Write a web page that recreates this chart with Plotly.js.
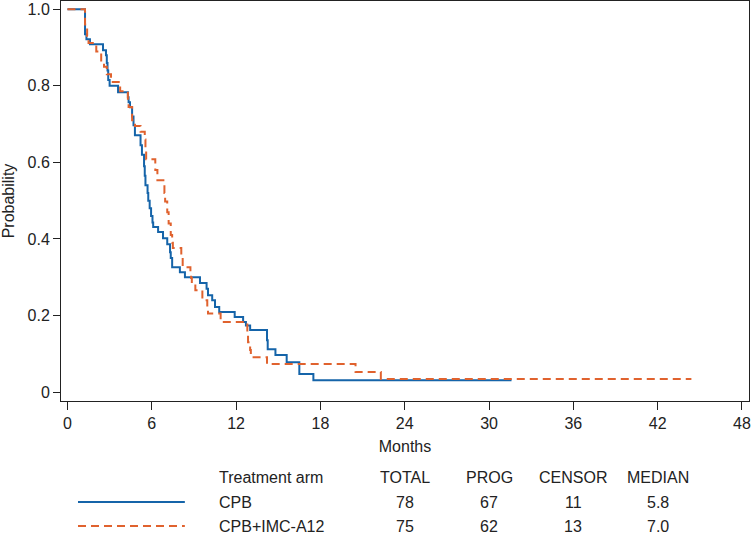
<!DOCTYPE html>
<html>
<head>
<meta charset="utf-8">
<script src="https://cdn.plot.ly/plotly-3.0.1.min.js"></script>
<style>
  body { margin: 0; background: #fff; }
  #km { width: 751px; height: 535px; }
</style>
</head>
<body>
<div id="km"></div>
<script>
// courbes de Kaplan-Meier (mois, probabilité)
var cpbT = [0, 1.25, 1.35, 1.6, 2.53, 2.74, 2.8, 2.85, 2.9, 3.0, 3.6, 4.3, 4.35, 4.45, 4.6, 4.7, 4.8,
  5.2, 5.3, 5.45, 5.5, 5.55, 5.7, 5.75, 5.85, 5.95, 6.05, 6.1, 6.45, 6.8, 7.1, 7.3, 7.35, 7.45,
  8.0, 8.36, 9.43, 9.9, 10.0, 10.3, 10.5, 10.8, 11.9, 12.5, 12.7, 13.0, 14.2, 14.25, 14.8, 15.6,
  16.5, 17.5, 31.6];
var cpbS = [1, 0.935, 0.922, 0.909, 0.893, 0.88, 0.86, 0.84, 0.815, 0.80, 0.783, 0.77, 0.757, 0.744,
  0.72, 0.697, 0.671, 0.645, 0.62, 0.59, 0.565, 0.54, 0.52, 0.50, 0.48, 0.46, 0.443, 0.431, 0.418,
  0.402, 0.386, 0.365, 0.35, 0.326, 0.313, 0.30, 0.285, 0.27, 0.253, 0.24, 0.222, 0.209, 0.196,
  0.183, 0.174, 0.162, 0.135, 0.112, 0.097, 0.078, 0.047, 0.031, 0.031];

var imcT = [0, 1.25, 1.4, 1.5, 2.05, 2.4, 2.6, 2.8, 3.1, 3.75, 4.3, 4.35, 4.6, 4.8, 5.2, 5.5, 5.55,
  5.6, 6.25, 6.4, 6.9, 6.95, 7.1, 7.2, 7.35, 7.45, 7.5, 8.1, 8.2, 8.75, 8.8, 8.85, 9.1, 9.6, 9.95,
  10.0, 10.9, 12.8, 12.85, 13.0, 13.05, 14.2, 20.5, 22.3, 44.4];
var imcS = [1, 0.96, 0.93, 0.912, 0.89, 0.86, 0.85, 0.83, 0.81, 0.786, 0.76, 0.745, 0.71, 0.695,
  0.68, 0.66, 0.635, 0.608, 0.58, 0.553, 0.52, 0.498, 0.47, 0.44, 0.41, 0.39, 0.376, 0.35, 0.326,
  0.31, 0.298, 0.285, 0.266, 0.24, 0.22, 0.205, 0.183, 0.15, 0.13, 0.11, 0.091, 0.073, 0.052,
  0.034, 0.034];

// tableau sous le graphe
var tableHeaders = ['Treatment arm', 'TOTAL', 'PROG', 'CENSOR', 'MEDIAN'];
var tableCols = [24, 30, 36, 42];   // colonnes alignées sur les graduations
var arms = ['CPB', 'CPB+IMC-A12'];
var totals = ['78', '75'];
var progs = ['67', '62'];
var censors = ['11', '13'];
var medians = ['5.8', '7.0'];

var xTicks = [0, 6, 12, 18, 24, 30, 36, 42, 48];
var yTicks = [0, 0.2, 0.4, 0.6, 0.8, 1.0];
var yTickText = ['0', '0.2', '0.4', '0.6', '0.8', '1.0'];

var blue = '#1564a9';
var orange = '#e0622e';
var txt = '#222';
var fontFam = '"Liberation Sans", Arial, sans-serif';

var cpb = {
  x: cpbT, y: cpbS, mode: 'lines', name: arms[0],
  line: { color: blue, width: 2, shape: 'hv' }
};
var imc = {
  x: imcT, y: imcS, mode: 'lines', name: arms[1],
  line: { color: orange, width: 2, shape: 'hv', dash: '8px,5px' }
};

// positions des lignes du tableau (en coordonnées papier)
var rowY = [-0.2525, -0.3125];
var headY = -0.1915;
var armX = 0.2267;

var annotations = [];
annotations.push({ xref: 'paper', yref: 'paper', x: armX, y: headY, xanchor: 'left', yanchor: 'middle',
  text: tableHeaders[0], showarrow: false });
tableCols.forEach(function (c, i) {
  annotations.push({ xref: 'x', yref: 'paper', x: c, y: headY, xanchor: 'center', yanchor: 'middle',
    text: tableHeaders[i + 1], showarrow: false });
});
arms.forEach(function (a, r) {
  annotations.push({ xref: 'paper', yref: 'paper', x: armX, y: rowY[r], xanchor: 'left', yanchor: 'middle',
    text: a, showarrow: false });
  [totals[r], progs[r], censors[r], medians[r]].forEach(function (v, i) {
    annotations.push({ xref: 'x', yref: 'paper', x: tableCols[i], y: rowY[r], xanchor: 'center',
      yanchor: 'middle', text: v, showarrow: false });
  });
});

var shapes = [
  { type: 'line', xref: 'paper', yref: 'paper', x0: 0.0247, x1: 0.180, y0: rowY[0], y1: rowY[0],
    line: { color: blue, width: 2 } },
  { type: 'line', xref: 'paper', yref: 'paper', x0: 0.0247, x1: 0.180, y0: rowY[1], y1: rowY[1],
    line: { color: orange, width: 2, dash: '8px,5px' } }
];

var layout = {
  width: 751,
  height: 535,
  margin: { l: 61, r: 2, t: 1, b: 134 },
  paper_bgcolor: '#fff',
  plot_bgcolor: '#fff',
  showlegend: false,
  font: { family: fontFam, size: 16, color: txt },
  xaxis: {
    range: [-0.46, 48.5],
    tickvals: xTicks,
    ticks: 'outside', ticklen: 8, tickcolor: '#222', tickwidth: 1,
    tickfont: { size: 16 },
    showline: true, linecolor: '#222', linewidth: 1, mirror: true,
    showgrid: false, zeroline: false,
    title: { text: 'Months', standoff: 9, font: { size: 16 } }
  },
  yaxis: {
    range: [-0.0235, 1.0217],
    tickvals: yTicks, ticktext: yTickText,
    ticks: 'outside', ticklen: 7, tickcolor: '#222', tickwidth: 1,
    tickfont: { size: 16 },
    showline: true, linecolor: '#222', linewidth: 1, mirror: true,
    showgrid: false, zeroline: false,
    title: { text: 'Probability', standoff: 8, font: { size: 16 } }
  },
  annotations: annotations,
  shapes: shapes
};

Plotly.newPlot('km', [cpb, imc], layout, { displayModeBar: false, staticPlot: true });
</script>
</body>
</html>
